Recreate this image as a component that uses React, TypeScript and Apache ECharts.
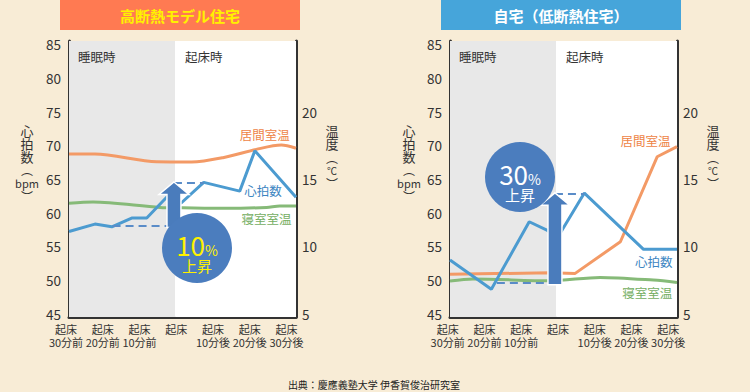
import React, { useEffect, useRef } from 'react';
import * as echarts from 'echarts';

// ---- data ----
const X_LABELS = ['起床\n30分前', '起床\n20分前', '起床\n10分前', '起床', '起床\n10分後', '起床\n20分後', '起床\n30分後'];
const HR_TICKS = [45, 50, 55, 60, 65, 70, 75, 80, 85];
const TEMP_TICKS = [5, 10, 15, 20];

// 高断熱モデル住宅 (minutes relative to wake-up)
const HI_HR_MIN = [-29.35, -22.3, -17.7, -12.3, -8.2, -2.4, 1.1, 7.3, 17.1, 21.2, 32.4];
const HI_HR = [57.2, 58.3, 57.9, 59.2, 59.2, 62.5, 61.4, 64.5, 63.2, 69.2, 62.3];
const HI_LIVING_MIN = [-29.35, -22.3, -5.5, 4.0, 12.5, 21.6, 28.4, 32.4];
const HI_LIVING = [16.85, 16.85, 16.28, 16.26, 16.58, 17.2, 17.52, 17.28];
const HI_BED_MIN = [-29.35, -22.8, -4.6, 1.6, 13.5, 24.4, 28.0, 32.4];
const HI_BED = [13.19, 13.29, 12.89, 12.86, 12.82, 12.89, 12.99, 12.99];
const HI_RISE = { fromMin: -17.5, from: 58.1, toMin: 7.3, to: 64.4, label: '10' };

// 自宅（低断熱住宅）
const LO_HR_MIN = [-29.35, -18.1, -7.8, -3.0, -0.2, 7.2, 23.3, 32.4];
const LO_HR = [52.96, 48.61, 58.65, 57.42, 56.2, 62.91, 54.55, 54.55];
const LO_LIVING_MIN = [-29.35, -2.1, 4.7, 17.0, 27.0, 32.4];
const LO_LIVING = [7.92, 8.04, 7.99, 10.34, 16.65, 17.4];
const LO_BED_MIN = [-29.35, -23.1, -2.1, 11.5, 26.0, 32.4];
const LO_BED = [7.42, 7.57, 7.44, 7.69, 7.49, 7.32];
const LO_RISE = { fromMin: -16.6, from: 49.6, toMin: 7.2, to: 62.8, label: '30' };

const HR_TITLE_MAIN = '心\n拍\n数';
const HR_TITLE_UNIT = 'bpm';
const TEMP_TITLE_MAIN = '温\n度';
const TEMP_TITLE_UNIT = '℃';

const X_MIN = -29.35;
const X_MAX = 32.4;
const WAKE = -0.5;
const ARROW_X = -0.8;

const FONT = '"Noto Sans CJK JP", "Noto Sans", sans-serif';
const BLUE = '#4C9BD0';
const ORANGE = '#F39A66';
const GREEN = '#86BA78';
const DARK = '#333333';

const zip = (xs: number[], ys: number[]) => xs.map((x, i) => [x, ys[i]]);

const PANELS = [
  {
    left: 69, labLeft: 66, title: '高断熱モデル住宅', barX: 60, barColor: '#FF7A52', titleColor: '#FFF100',
    hr: zip(HI_HR_MIN, HI_HR), living: zip(HI_LIVING_MIN, HI_LIVING), bed: zip(HI_BED_MIN, HI_BED),
    smoothLiving: 0.3, rise: HI_RISE, riseColor: '#FFF100',
    circle: [197, 248],
    labels: { living: [23.9, 18.27], hr: [23.4, 63.26], bed: [24.4, 12.08] },
    hrTitleX: 27, tTitleX: 332,
  },
  {
    left: 450, labLeft: 447.7, title: '自宅（低断熱住宅）', barX: 441, barColor: '#46A5DA', titleColor: '#FFFFFF',
    hr: zip(LO_HR_MIN, LO_HR), living: zip(LO_LIVING_MIN, LO_LIVING), bed: zip(LO_BED_MIN, LO_BED),
    smoothLiving: 0, rise: LO_RISE, riseColor: '#FFFFFF',
    circle: [520, 177],
    labels: { living: [23.8, 17.89], hr: [26.1, 52.71], bed: [24.3, 6.58] },
    hrTitleX: 409, tTitleX: 713,
  },
];

function labelPoint(coord: number[], text: string, color: string) {
  return {
    symbol: 'circle', symbolSize: 1, silent: true,
    itemStyle: { color: 'rgba(0,0,0,0)' },
    label: { show: true, position: 'inside', formatter: text, color, fontSize: 12.5, fontFamily: FONT },
    data: [{ coord }],
  };
}

function buildOption() {
  const grids: any[] = [];
  const xAxes: any[] = [];
  const yAxes: any[] = [];
  const series: any[] = [];
  PANELS.forEach((p, i) => {
    grids[i] = { left: p.left, top: 41, width: 227, height: 276, show: true, backgroundColor: '#FFFFFF', borderWidth: 0 };
    grids[2 + i] = { left: p.labLeft, top: 41, width: 220.5, height: 276 };
    xAxes[i] = {
      type: 'value', gridIndex: i, min: X_MIN, max: X_MAX,
      axisLine: { show: true, onZero: false, lineStyle: { color: DARK, width: 3 } },
      axisTick: { show: false }, axisLabel: { show: false }, splitLine: { show: false },
    };
    xAxes[2 + i] = {
      type: 'category', gridIndex: 2 + i, data: X_LABELS, boundaryGap: false,
      axisLine: { show: false }, axisTick: { show: false }, splitLine: { show: false },
      axisLabel: { interval: 0, margin: 6, fontSize: 11, lineHeight: 12.4, color: DARK, fontFamily: FONT },
    };
    yAxes[2 * i] = {
      type: 'value', gridIndex: i, position: 'left', min: 44.5, max: 85.5,
      axisLine: { show: true, onZero: false, lineStyle: { color: DARK, width: 3 } },
      axisTick: { show: false }, splitLine: { show: false },
      axisLabel: { customValues: HR_TICKS, margin: 8, fontSize: 13.5, color: DARK, fontFamily: FONT },
    };
    yAxes[2 * i + 1] = {
      type: 'value', gridIndex: i, position: 'right', min: 4.75, max: 25.25,
      axisLine: { show: true, onZero: false, lineStyle: { color: DARK, width: 3 } },
      axisTick: { show: false }, splitLine: { show: false },
      axisLabel: { customValues: TEMP_TICKS, margin: 6, fontSize: 13.5, color: DARK, fontFamily: FONT },
    };
    yAxes[4 + i] = { type: 'value', gridIndex: 2 + i, show: false };

    const areaLabel = { show: true, position: [9, 9], color: DARK, fontSize: 12.5, fontFamily: FONT };
    series.push({
      type: 'line', xAxisIndex: i, yAxisIndex: 2 * i, data: [], silent: true, z: 1,
      markArea: {
        silent: true,
        data: [
          [{ name: '睡眠時', xAxis: X_MIN, itemStyle: { color: '#E8E8E8' }, label: areaLabel }, { xAxis: WAKE }],
          [{ name: '起床時', xAxis: WAKE, itemStyle: { color: '#FFFFFF' }, label: { ...areaLabel, position: [10, 9] } }, { xAxis: X_MAX }],
        ],
      },
    });
    series.push({
      type: 'line', name: '居間室温', xAxisIndex: i, yAxisIndex: 2 * i + 1, data: p.living,
      symbol: 'none', smooth: p.smoothLiving, z: 3, emphasis: { disabled: true },
      lineStyle: { color: ORANGE, width: 3 },
      markPoint: labelPoint(p.labels.living, '居間室温', '#EE8446'),
    });
    series.push({
      type: 'line', name: '寝室室温', xAxisIndex: i, yAxisIndex: 2 * i + 1, data: p.bed,
      symbol: 'none', smooth: 0.3, z: 3, emphasis: { disabled: true },
      lineStyle: { color: GREEN, width: 3 },
      markPoint: labelPoint(p.labels.bed, '寝室室温', '#74AE62'),
    });
    series.push({
      type: 'line', name: '心拍数', xAxisIndex: i, yAxisIndex: 2 * i, data: p.hr,
      symbol: 'none', z: 4, emphasis: { disabled: true },
      lineStyle: { color: BLUE, width: 3 },
      markPoint: labelPoint(p.labels.hr, '心拍数', '#3D86C2'),
      markLine: {
        silent: true, symbol: ['none', 'none'],
        label: { show: false },
        lineStyle: { color: '#5A8CC8', width: 2, type: [8, 5] },
        data: [
          [{ coord: [p.rise.fromMin, p.rise.from] }, { coord: [ARROW_X, p.rise.from] }],
          [{ coord: [ARROW_X, p.rise.to] }, { coord: [p.rise.toMin, p.rise.to] }],
        ],
      },
    });
  });
  return {
    animation: false,
    backgroundColor: '#F8ECD6',
    grid: grids, xAxis: xAxes, yAxis: yAxes, series,
  };
}

function unitText(x: number, top: number, unit: string, unitSize: number, lh: number[]) {
  return {
    type: 'text', x, y: top, z: 51,
    style: {
      text: `{a|︵}\n{b|${unit}}\n{c|︶}`,
      fill: DARK, fontFamily: FONT, align: 'center', verticalAlign: 'top',
      rich: {
        a: { fontSize: 12, lineHeight: lh[0], fill: DARK, fontFamily: FONT },
        b: { fontSize: unitSize, lineHeight: lh[1], fill: DARK, fontFamily: FONT },
        c: { fontSize: 12, lineHeight: lh[2], fill: DARK, fontFamily: FONT },
      },
    },
  };
}

function buildGraphics(chart: any) {
  const g: any[] = [];
  PANELS.forEach((p, i) => {
    g.push({ type: 'rect', shape: { x: p.barX, y: 0, width: 240, height: 30 }, style: { fill: p.barColor }, z: 50 });
    g.push({
      type: 'text', x: p.barX + 120, y: 15, z: 51,
      style: { text: p.title, fill: p.titleColor, font: `bold 15px ${FONT}`, align: 'center', verticalAlign: 'middle' },
    });
    // vertical axis titles
    g.push({ type: 'text', x: p.hrTitleX, y: 123.3, z: 51,
      style: { text: HR_TITLE_MAIN, fill: DARK, fontSize: 13, fontFamily: FONT, lineHeight: 13.4, align: 'center', verticalAlign: 'top' } });
    g.push(unitText(p.hrTitleX, 164, HR_TITLE_UNIT, 11, [11, 15, 13]));
    g.push({ type: 'text', x: p.tTitleX, y: 123.3, z: 51,
      style: { text: TEMP_TITLE_MAIN, fill: DARK, fontSize: 13, fontFamily: FONT, lineHeight: 13.4, align: 'center', verticalAlign: 'top' } });
    g.push(unitText(p.tTitleX, 151.5, TEMP_TITLE_UNIT, 10, [12, 13, 14]));

    // arrow
    const top = chart.convertToPixel({ xAxisIndex: i, yAxisIndex: 2 * i }, [ARROW_X, p.rise.to]);
    const bot = chart.convertToPixel({ xAxisIndex: i, yAxisIndex: 2 * i }, [ARROW_X, p.rise.from]);
    const cx = top[0];
    const tipY = top[1] - 1;
    const baseY = tipY + 12.5;
    const bottom = bot[1] + 2;
    g.push({
      type: 'polygon', z: 60,
      shape: { points: [[cx, tipY], [cx + 15, baseY], [cx + 7, baseY], [cx + 7, bottom], [cx - 7, bottom], [cx - 7, baseY], [cx - 15, baseY]] },
      style: { fill: '#4A7CBC', stroke: '#FFFFFF', lineWidth: 1.5 },
    });
    const [ccx, ccy] = p.circle;
    g.push({ type: 'circle', z: 61, shape: { cx: ccx, cy: ccy, r: 35 }, style: { fill: '#4B7DBE' } });
    g.push({ type: 'text', z: 62, x: ccx, y: ccy + 4,
      style: {
        text: `{n|${p.rise.label}}{p|%}\n{u|上昇}`,
        fill: p.riseColor, fontFamily: FONT, align: 'center', verticalAlign: 'middle',
        rich: {
          n: { fontSize: 26, lineHeight: 26, fill: p.riseColor, fontFamily: FONT, verticalAlign: 'bottom' },
          p: { fontSize: 14, lineHeight: 20, fill: p.riseColor, fontFamily: FONT, verticalAlign: 'bottom' },
          u: { fontSize: 15, lineHeight: 16, fill: p.riseColor, fontFamily: FONT },
        },
      } });
  });
  g.push({ type: 'text', x: 374, y: 384, z: 51,
    style: { text: '出典：慶應義塾大学 伊香賀俊治研究室', fill: '#222222', fontSize: 10, fontFamily: FONT, align: 'center', verticalAlign: 'middle' } });
  return g;
}

export default function App() {
  const ref = useRef<HTMLDivElement>(null);
  useEffect(() => {
    const chart = echarts.init(ref.current!, null, { renderer: 'svg' });
    chart.setOption(buildOption());
    chart.setOption({ graphic: buildGraphics(chart) });
    return () => chart.dispose();
  }, []);
  return <div ref={ref} style={{ position: 'fixed', left: 0, top: 0, width: 750, height: 392 }} />;
}
